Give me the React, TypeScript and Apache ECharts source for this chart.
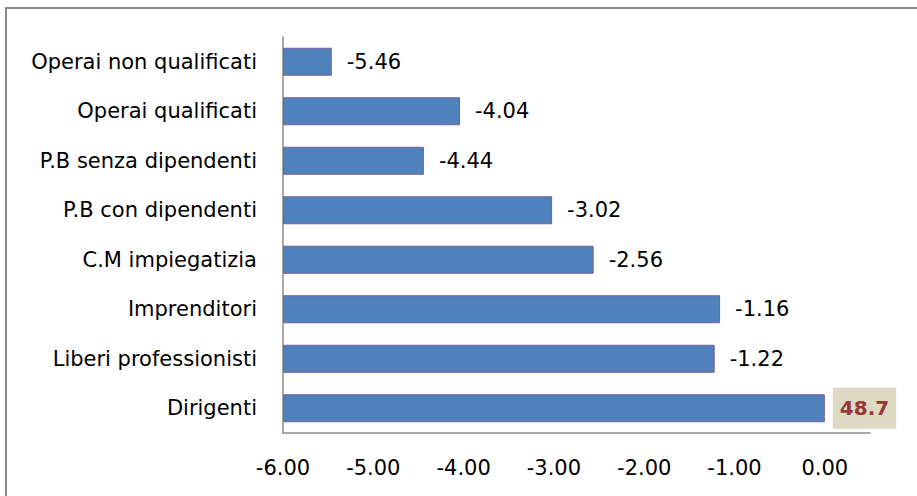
import React, { useEffect, useRef } from "react";
import * as echarts from "echarts";

const categories = [
  "Operai non qualificati",
  "Operai qualificati",
  "P.B senza dipendenti",
  "P.B con dipendenti",
  "C.M impiegatizia",
  "Imprenditori",
  "Liberi professionisti",
  "Dirigenti",
];
const values = [-5.46, -4.04, -4.44, -3.02, -2.56, -1.16, -1.22, 48.7];
const axisMin = -6;
const axisMax = 0.5;
const plotMax = 0; // bars are cut at the last labelled tick
const tickStep = 1;

const FONT = "DejaVu Sans";

export default function App() {
  const ref = useRef<HTMLDivElement>(null);
  useEffect(() => {
    if (!ref.current) return;
    const chart = echarts.init(ref.current, undefined, { renderer: "svg" });
    const data = values.map((v) => {
      const shown = Math.min(v, plotMax) - axisMin;
      const isHighlight = v > plotMax;
      return {
        value: shown,
        label: isHighlight
          ? {
              show: true,
              position: "right",
              distance: 8,
              formatter: String(v),
              color: "#953735",
              fontWeight: "bold",
              fontSize: 20,
              fontFamily: FONT,
              backgroundColor: "#DDD9C3",
              padding: [11, 7, 10, 7],
            }
          : undefined,
      };
    });
    chart.setOption({
      animation: false,
      backgroundColor: "#ffffff",
      graphic: [
        {
          type: "rect",
          shape: { x: 6, y: 8, width: 930, height: 510 },
          style: { fill: "none", stroke: "#8a8a8a", lineWidth: 2 },
          silent: true,
        },
      ],
      grid: { left: 283, right: 47, top: 37, bottom: 63, containLabel: false },
      xAxis: {
        type: "value",
        min: 0,
        max: axisMax - axisMin,
        interval: tickStep,
        axisLine: { show: true, lineStyle: { color: "#8c8c8c", width: 1.5 } },
        axisTick: { show: false },
        splitLine: { show: false },
        axisLabel: {
          margin: 24,
          fontSize: 21,
          fontFamily: FONT,
          color: "#000000",
          showMaxLabel: false,
          formatter: (v: number) => {
            const real = v + axisMin;
            if (real > plotMax + 1e-9) return "";
            return real.toFixed(2);
          },
        },
      },
      yAxis: {
        type: "category",
        inverse: true,
        data: categories,
        axisLine: { show: true, lineStyle: { color: "#8c8c8c", width: 1.5 } },
        axisTick: { show: false },
        axisLabel: {
          margin: 26,
          fontSize: 21,
          fontFamily: FONT,
          color: "#000000",
        },
      },
      series: [
        {
          type: "bar",
          data,
          barWidth: 28,
          itemStyle: {
            color: "#4F81BD",
            borderColor: "#7B5E95",
            borderWidth: 1,
          },
          label: {
            show: true,
            position: "right",
            distance: 15,
            fontSize: 21,
            fontFamily: FONT,
            color: "#000000",
            formatter: (p: any) => String(values[p.dataIndex]),
          },
        },
      ],
    });
    return () => chart.dispose();
  }, []);
  return (
    <div
      ref={ref}
      style={{ position: "fixed", left: 0, top: 0, width: 917, height: 496 }}
    />
  );
}
